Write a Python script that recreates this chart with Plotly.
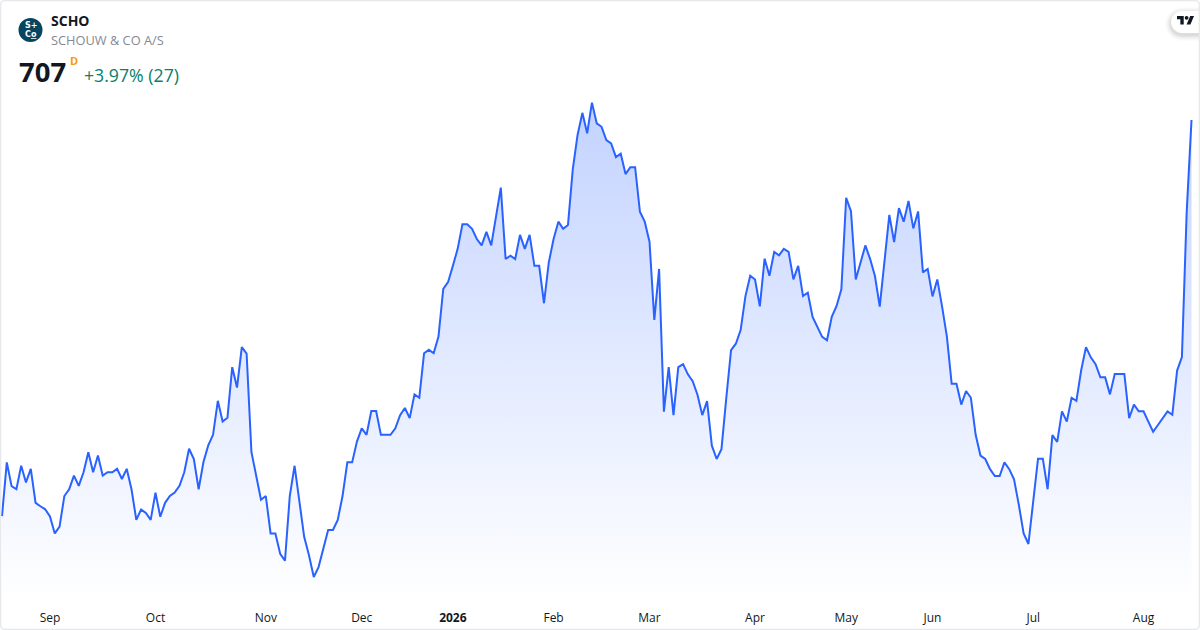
import plotly.graph_objects as go

W, H = 1200, 630

# Daily close
close = [
    590.5, 606.3, 599.3, 598.4, 605.3, 600.4, 604.4, 594.4, 593.4, 592.5,
    590.4, 585.4, 587.4, 596.4, 598.4, 602.4, 599.4, 603.4, 609.3, 603.4,
    608.3, 602.4, 603.4, 603.4, 604.4, 601.4, 604.4, 598.4, 589.4, 592.4,
    591.4, 589.4, 597.4, 590.3, 594.4, 596.4, 597.4, 599.4, 603.4, 610.3,
    607.3, 598.4, 606.4, 611.3, 614.4, 624.4, 618.3, 619.4, 634.3, 628.3,
    640.2, 638.3, 609.4, 602.4, 595.3, 596.4, 585.4, 585.4, 579.4, 577.4,
    596.4, 605.3, 595.2, 584.4, 579.0, 572.6, 575.5, 581.4, 586.4, 586.4,
    589.4, 596.4, 606.3, 606.3, 612.4, 616.3, 614.4, 621.4, 621.4, 614.4,
    614.4, 614.4, 616.3, 620.2, 622.3, 619.3, 626.3, 625.3, 638.4, 639.4,
    638.4, 643.3, 657.3, 659.3, 664.1, 669.1, 676.3, 676.3, 675.0, 672.0,
    670.1, 674.1, 670.1, 678.1, 687.1, 666.1, 667.1, 666.1, 673.2, 669.1,
    673.2, 664.1, 664.1, 653.1, 665.1, 672.0, 677.1, 675.0, 676.1, 692.5,
    702.6, 709.1, 703.1, 712.1, 706.0, 705.0, 701.1, 700.1, 696.1, 697.1,
    691.1, 693.1, 693.1, 680.0, 677.1, 671.2, 648.2, 663.2, 621.2, 634.3,
    620.2, 634.3, 635.2, 632.2, 630.2, 626.2, 620.2, 624.3, 611.2, 607.3,
    610.2, 625.1, 639.3, 641.2, 645.2, 655.2, 661.2, 660.1, 652.2, 666.2,
    661.2, 668.2, 667.2, 669.1, 668.2, 660.1, 664.1, 655.2, 656.2, 649.1,
    646.2, 643.2, 642.2, 649.1, 652.3, 657.2, 684.1, 680.2, 660.1, 665.1,
    670.1, 666.1, 661.1, 652.1, 665.1, 679.1, 671.1, 681.1, 677.1, 683.2,
    675.1, 680.1, 662.2, 663.2, 655.1, 660.1, 652.1, 643.3, 629.4, 629.4,
    623.3, 627.3, 625.3, 614.4, 608.3, 607.3, 604.3, 602.3, 602.3, 606.3,
    604.3, 601.3, 593.8, 585.4, 582.3, 594.3, 607.4, 607.4, 598.4, 614.3,
    612.3, 621.3, 618.3, 625.3, 624.4, 633.4, 640.2, 637.2, 635.2, 631.3,
    631.3, 626.3, 632.3, 632.3, 632.3, 619.3, 623.3, 621.3, 621.3, 618.3,
    615.3, 617.3, 619.3, 621.3, 620.3, 633.3, 637.3, 680.0, 707.0,
]
sessions = list(range(len(close)))

# Session number where each month starts
month_starts = [10, 32, 55, 75, 94, 115, 135, 157, 176, 194, 215, 238]
month_labels = ['Sep', 'Oct', 'Nov', 'Dec', '<b>2026</b>', 'Feb', 'Mar', 'Apr', 'May', 'Jun', 'Jul', 'Aug']

FONT = 'Open Sans'
BLUE = '#2962ff'
y_low, y_high = 565.82, 742.29


def px(x):
    return x / W


def py(y):
    return 1 - y / H


def label(x, y, text, size, color, bold=False, anchor='left', family=FONT):
    return dict(
        xref='paper', yref='paper', x=px(x), y=py(y), text=f'<b>{text}</b>' if bold else text,
        showarrow=False, xanchor=anchor, yanchor='middle',
        font=dict(family=family, size=size, color=color),
    )


def circle(cx, cy, r, color):
    return dict(
        type='circle', xref='paper', yref='paper', x0=px(cx - r), x1=px(cx + r),
        y0=py(cy - r), y1=py(cy + r), fillcolor=color, line_width=0, layer='above',
    )


def polygon(points, color, layer='above', line=None):
    path = 'M' + ' L'.join(f'{px(x):.5f},{py(y):.5f}' for x, y in points) + ' Z'
    return dict(
        type='path', xref='paper', yref='paper', path=path, fillcolor=color,
        line=line or dict(width=0), layer=layer,
    )


def pill(x0, y0, r, color):
    # Pill stuck to the right edge of the frame
    d = r * 0.45
    path = (
        f'M{px(W)},{py(y0)} L{px(x0 + r)},{py(y0)} '
        f'C{px(x0 + d)},{py(y0)} {px(x0)},{py(y0 + d)} {px(x0)},{py(y0 + r)} '
        f'C{px(x0)},{py(y0 + 2 * r - d)} {px(x0 + d)},{py(y0 + 2 * r)} {px(x0 + r)},{py(y0 + 2 * r)} '
        f'L{px(W)},{py(y0 + 2 * r)} Z'
    )
    return dict(type='path', xref='paper', yref='paper', path=path, fillcolor=color, line_width=0, layer='above')


fig = go.Figure()
fig.add_trace(go.Scatter(
    x=sessions, y=close,
    mode='lines',
    line=dict(color=BLUE, width=2),
    fill='tozeroy',
    fillgradient=dict(
        type='vertical',
        start=y_low, stop=max(close),
        colorscale=[[0, 'rgba(41,98,255,0)'], [1, 'rgba(41,98,255,0.28)']],
    ),
    hoverinfo='skip',
))

# Frame, logo and the TradingView badge
shapes = []
for grow, alpha in [(6, 0.012), (5, 0.016), (4, 0.02), (3, 0.025), (2, 0.03), (1, 0.035)]:
    shapes.append(pill(1171 - grow, 11 - grow + 2, 11 + grow, f'rgba(0,0,0,{alpha})'))
shapes.append(pill(1171, 11, 11, '#ffffff'))
tv_x, tv_y, tv_s = 1177, 14, 0.48
shapes.append(polygon(
    [(tv_x + a * tv_s, tv_y + b * tv_s) for a, b in [(0, 4), (14, 4), (14, 22), (7, 22), (7, 11), (0, 11)]], '#131722'))
shapes.append(polygon(
    [(tv_x + a * tv_s, tv_y + b * tv_s) for a, b in [(27.5, 4), (35.5, 4), (28, 22), (20, 22)]], '#131722'))
shapes.append(circle(tv_x + 20 * tv_s, tv_y + 8 * tv_s, 4 * tv_s, '#131722'))
shapes.append(circle(30.5, 30, 12, '#054560'))
r = 5
shapes.append(dict(
    type='path', xref='paper', yref='paper', layer='above', fillcolor='rgba(0,0,0,0)',
    line=dict(color='#e6e8ec', width=1.4),
    path=(
        f'M{px(0.6 + r)},{py(0.6)} L{px(W - 0.6 - r)},{py(0.6)} Q{px(W - 0.6)},{py(0.6)} {px(W - 0.6)},{py(0.6 + r)} '
        f'L{px(W - 0.6)},{py(H - 0.6 - r)} Q{px(W - 0.6)},{py(H - 0.6)} {px(W - 0.6 - r)},{py(H - 0.6)} '
        f'L{px(0.6 + r)},{py(H - 0.6)} Q{px(0.6)},{py(H - 0.6)} {px(0.6)},{py(H - 0.6 - r)} '
        f'L{px(0.6)},{py(0.6 + r)} Q{px(0.6)},{py(0.6)} {px(0.6 + r)},{py(0.6)} Z'
    ),
))

annotations = [
    label(30.5, 25.5, 'S+', 8, '#ffffff', bold=True, anchor='center', family='DejaVu Sans'),
    label(30.5, 34, 'C<u>o</u>', 8, '#ffffff', bold=True, anchor='center', family='DejaVu Sans'),
    label(48.5, 21, 'SCHO', 14, '#131722', bold=True),
    label(49, 40.5, 'SCHOUW &amp; CO A/S', 12.8, '#868993'),
    label(17, 71, '707', 27.5, '#131722', bold=True),
    label(68, 61, 'D', 11, '#ff9800', bold=True),
    label(81.5, 75, '+3.97% (27)', 17.7, '#08806a'),
]

per_session = (1191.5 - 2) / (len(close) - 1)
fig.update_layout(
    width=W, height=H,
    margin=dict(l=0, r=0, t=0, b=0),
    paper_bgcolor='#ffffff', plot_bgcolor='#ffffff',
    showlegend=False,
    shapes=shapes, annotations=annotations,
    font=dict(family=FONT),
    xaxis=dict(
        domain=[0, 1],
        range=[-2 / per_session, len(close) - 1 + (W - 1191.5) / per_session],
        tickmode='array', tickvals=month_starts, ticktext=month_labels,
        tickfont=dict(family=FONT, size=12, color='#131722'),
        ticks='', showgrid=False, zeroline=False, showline=False,
        ticklabelstandoff=9,
    ),
    yaxis=dict(
        domain=[1 - 600 / H, 1],
        range=[y_low, y_high],
        visible=False, showgrid=False, zeroline=False,
    ),
)

fig.write_html('out.html', config={'displayModeBar': False}, post_script="document.body.style.margin='0';")
